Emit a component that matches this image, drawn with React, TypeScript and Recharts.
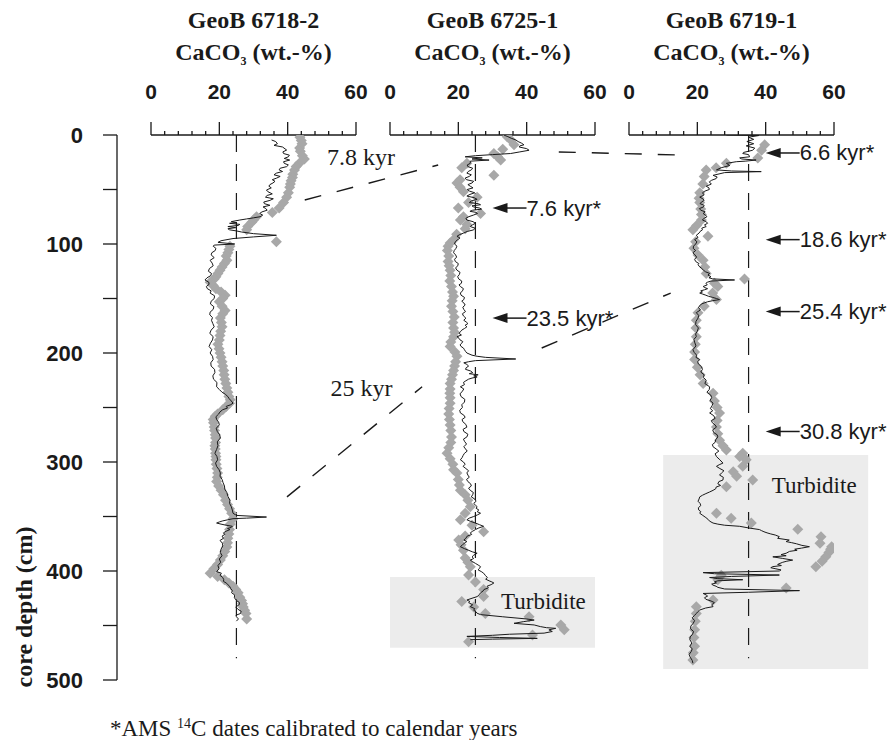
import React from "react";
import { ScatterChart, Scatter, XAxis, YAxis, ReferenceLine, ReferenceArea } from "recharts";

// figure geometry
const W = 895;
const H = 740;
const PLOT_TOP = 135;
const PLOT_BOTTOM = 680;
const PANEL_LEFT = [151, 390, 629];
const PANEL_W = 205;
const X_AXIS_H = 50;

const INK = "#1a1a1a";
const GRAY = "#a8a8a8";
const BOX = "#ececec";
const SANS = "'Liberation Sans', Arial, sans-serif";
const SERIF = "'Liberation Serif', 'Times New Roman', serif";

// ---- data: [depth cm, CaCO3 wt.-%] ----
const cores = ["GeoB 6718-2", "GeoB 6725-1", "GeoB 6719-1"];
const xTicks = [0, 4, 8, 12, 16, 20, 24, 28, 32, 36, 40, 44, 48, 52, 56, 60];
const depthTicks = [0, 50, 100, 150, 200, 250, 300, 350, 400, 450, 500];
const meanLevel = [25, 25, 35];

const line6718: [number, number][] = [
  [4.6, 35.3], [6, 36.5], [8, 37], [9.5, 36], [11, 38.5], [13.8, 39.7], [15.5, 38.6], [17, 38.8], [18.5, 40.5],
  [20, 40.2], [21.5, 39], [23, 40.6], [24.5, 38.8], [26, 39], [27.5, 40.2], [29, 39.7], [30.5, 37.8], [32, 37.5],
  [33.5, 38.5], [35, 36.7], [36.5, 36], [38, 37.8], [39.5, 36.8], [41, 35.5], [42.5, 36.3], [44, 35.7], [45.5, 34.8],
  [47, 34.5], [48.5, 35.2], [50.5, 33.8], [52, 34.2], [54, 35.5], [55.5, 34], [57, 33.5], [58.5, 35.8], [60, 34.8],
  [61.5, 33], [63, 33.2], [64.5, 34.8], [66, 32.8], [67.5, 33.6], [69, 34], [70.5, 32.5], [72, 31.8], [73.5, 32.7],
  [75, 31.9], [76, 30], [77, 28], [78, 26], [79.5, 23.5], [80.5, 25], [81, 23], [82, 26], [83, 25.5], [84, 22.5],
  [85, 24.8], [86, 22.5], [87, 23], [88, 25], [89, 26.5], [90.5, 30], [92, 36.7], [93.5, 30], [95, 24], [97, 20.5],
  [98.5, 19.6], [100, 24.5], [101, 18.5], [102, 18.2], [104, 19], [106, 18.8], [108, 17.8], [110, 17.6], [112.5, 18.5],
  [115, 17.3], [117.5, 17.9], [120, 18.2], [122.5, 17.1], [125, 16.8], [127, 17.7], [129, 17.5], [131, 16.4],
  [133, 15.8], [135, 16.9], [137, 17], [139, 16.2], [141, 16.5], [143, 17.6], [145, 17.3], [147.5, 18.6], [150, 18.5],
  [152.5, 17.6], [155, 17.4], [157.5, 18.4], [160, 18.2], [162.5, 17.3], [165, 17.2], [167.5, 18], [170, 17.7],
  [173, 18.1], [176, 18.5], [179, 17.6], [182, 17.2], [185, 18.2], [188, 18], [191, 17.4], [194, 17], [197, 17.8],
  [200, 17.3], [203, 18], [206, 18.2], [209, 17.5], [212, 17.6], [215, 18.6], [218, 18.7], [221, 18.1], [224, 18.3],
  [227, 19.3], [231, 19.2], [233.5, 20], [236, 20.8], [238, 21.8], [240, 22.5], [242, 22.9], [244, 23.5], [246, 24],
  [247.5, 23.3], [249, 22], [250.5, 22.4], [252, 21], [254, 20.2], [256, 19.8], [258.5, 19], [261, 19.2], [263.5, 19.8],
  [266, 20], [269, 19.1], [272, 19.4], [275, 20.1], [278, 20.3], [281.5, 19.4], [285, 19.6], [288.5, 19.2], [292, 18.7],
  [295, 19.3], [298, 19.5], [301, 18.9], [304, 19.2], [307, 19.9], [310, 20.3], [313, 20.2], [316, 20.8], [319, 21.1],
  [322, 21.5], [325, 21.6], [328, 22.2], [331.5, 22.5], [335, 23.1], [338, 23], [341, 23.5], [344, 23.8], [347, 24],
  [349, 25], [350.5, 33.8], [351.5, 28], [352, 24], [353, 22.5], [354, 21], [355, 20], [356, 19.2], [357, 20.5],
  [358, 22], [359, 23.8], [360, 23.5], [361, 22.4], [362, 23.1], [363.5, 22], [365, 21.2], [366.5, 21.6], [368, 20.8],
  [370, 21.2], [372, 20.2], [374.5, 20.9], [377, 21], [380, 20.5], [383, 20.3], [386, 20.8], [389, 20], [392, 20.4],
  [395, 19.6], [398, 19.9], [400.6, 19.2], [402, 20.6], [404, 20.2], [406, 21], [408, 21.3], [409.5, 21.2], [411, 22],
  [412.5, 22.5], [414, 23], [416, 23.3], [418, 23.8], [420, 23.6], [422, 24.5], [424.5, 24.4], [427, 25], [429, 25.9],
  [431, 25.8], [433, 24.8], [435, 25.4], [437, 26.4], [439, 26.2], [440.5, 24.9], [442, 25], [444, 25.6], [446, 25],
];

const samples6718: [number, number][] = [
  [2, 43.6], [5, 44], [8, 44.2], [12, 43.5], [15, 43.7], [19, 44.3], [22, 44.9], [26, 43.4], [29, 42.5], [32, 42],
  [36, 41.5], [39, 41.4], [42, 41], [45, 40.8], [48, 40.6], [53, 40.2], [57, 39.7], [62, 38.8], [67, 37.5], [71, 35.5],
  [75, 30.9], [78, 30], [80, 29.5], [84, 28.3], [87, 28], [98, 36.7], [102, 23.1], [105, 22.8], [108, 22.5], [111, 22],
  [115, 22.2], [118, 21.5], [121, 20.8], [124, 20.2], [127, 19.6], [130, 19], [132, 18.5], [135, 17.3], [138, 18.2],
  [141, 19], [144, 20.5], [147, 21.7], [150, 21], [153, 20], [157, 20.8], [161, 21.7], [164, 21], [168, 20.3],
  [172, 20.6], [176, 20.8], [180, 20.4], [184, 20.2], [188, 20], [192, 19.6], [196, 19.9], [200, 20.2], [204, 20.5],
  [208, 20.8], [212, 21], [216, 21.3], [220, 21.4], [224, 21.6], [228, 21.9], [232, 22.2], [236, 22.5], [240, 22.8],
  [243, 23.2], [246, 23], [249, 22], [252, 21], [256, 19.5], [258, 18.8], [261, 18.2], [264, 18.3], [268, 18.5],
  [271, 18.6], [275, 18.8], [278, 18.9], [282, 18.9], [285, 18.7], [288, 18.8], [292, 18.9], [295, 19], [298, 19],
  [302, 19.1], [306, 19.3], [310, 19.5], [314, 19.4], [318, 19.2], [322, 19.8], [326, 20.5], [330, 21.2], [335, 21.8],
  [339, 22.4], [343, 23], [347, 23.6], [352, 24], [357, 23.2], [362, 23], [366, 22.8], [370, 22.5], [374, 22.4],
  [378, 22.2], [382, 21.6], [386, 21], [390, 20.3], [394, 19.5], [398, 18.4], [402, 17.3], [405, 19.5], [408, 21.5],
  [411, 22.8], [414, 24], [417, 24.8], [420, 25.5], [424, 26], [427, 26.5], [430, 26.8], [433, 27], [436, 27.4],
  [439, 27.8], [444, 28],
];

const line6725: [number, number][] = [
  [0, 33.3], [1.5, 34.5], [3, 35.5], [4.5, 36.8], [6, 37.5], [7.5, 38.5], [9, 39.2], [10, 38], [11, 37.8], [12.5, 40],
  [14, 40.7], [15.5, 38], [17, 35.3], [18, 30], [19, 25], [20, 22], [21, 27], [22, 24], [23, 29], [24, 23.5],
  [26, 23.5], [27.5, 22.6], [29, 22.8], [30.5, 24.2], [32, 23.8], [33.5, 22.9], [35, 22.5], [36.5, 23.8], [38, 23.2],
  [39.5, 22], [41, 22.4], [42.5, 24.5], [44, 24], [45.5, 22.8], [47, 23.5], [48.5, 24.3], [50, 22.6], [51.5, 23.3],
  [53, 24.8], [54.5, 23.4], [56, 22.5], [57.5, 24.6], [59, 25.5], [60.5, 23.8], [62, 23.2], [63, 25.8], [64, 26.5],
  [65, 24], [66, 24.5], [67, 26.2], [68, 26.8], [69, 24.2], [70, 23.4], [71, 25.2], [72, 25.6], [73.5, 24.4],
  [75, 23], [76.5, 22.2], [78, 22.5], [79.5, 24.3], [81, 25], [82.5, 24.1], [84, 23.5], [85.5, 24.9], [87, 24.5],
  [88.5, 22.6], [90, 21.5], [91.5, 20.3], [93, 19.6], [94.5, 20.5], [96, 19.8], [98, 19.1], [100, 18.9], [102, 19.6],
  [104, 19.3], [106, 18.8], [108, 18.6], [110, 19.2], [112, 19.5], [114, 18.9], [116, 19.1], [118, 20], [120, 19.8],
  [122, 19.2], [124, 19.6], [126, 20.5], [128, 20.3], [130, 19.8], [132, 20.1], [134, 21], [136, 20.9], [137.5, 20.2],
  [139, 20.6], [141, 21.5], [143, 21.2], [145, 20.6], [147, 20.8], [149, 21.8], [151, 21.6], [152.5, 21], [154, 21.6],
  [156, 22], [158, 21.3], [160, 21.6], [162, 22.1], [164, 21.2], [166, 21.5], [168, 22.2], [170, 21.6], [171.5, 22.3],
  [173, 22.8], [174.5, 22], [176, 22.5], [177.5, 21.8], [179, 21], [180.5, 20.6], [182, 20.2], [183.5, 20.9],
  [185, 19.6], [186.5, 20.2], [188, 20.5], [189.5, 21.3], [191, 21], [192.5, 20.5], [194, 20.8], [195.5, 21.5],
  [197, 21.8], [198.5, 22.1], [200, 22.5], [202, 24], [203, 25.5], [204, 28], [205.5, 36.8], [207, 25], [208, 23],
  [209, 21.6], [210.5, 22.5], [212, 23], [213.5, 22.3], [215, 22.1], [216.5, 23.6], [218, 24.2], [219, 23.2],
  [220, 25.8], [221, 24.5], [222, 25.5], [223, 24], [224, 23], [225.5, 22.2], [227, 21.5], [229, 21.8], [231, 20.6],
  [233, 21.6], [235, 21.2], [237.5, 20.5], [240, 20.8], [242.5, 21.9], [245, 21.8], [247.5, 21], [250, 21.2],
  [252.5, 20.4], [255, 20.6], [257, 21.6], [259, 22], [261, 21.1], [263, 21.3], [265.5, 22.2], [268, 22.5],
  [270, 21.4], [272, 21.6], [274.5, 22.8], [277, 22.5], [279, 21.5], [281, 21.8], [283.5, 22.4], [286, 21.6],
  [288, 22.1], [290, 22.6], [292, 21.8], [294, 21.4], [296, 21.1], [298, 20.6], [300, 21.5], [302, 22], [304, 21.4],
  [306, 22.2], [308, 23], [310, 22.5], [312, 22.8], [314, 23.2], [316, 22.4], [318, 22.8], [320, 23.6], [322, 23.8],
  [324, 23], [326, 23.5], [328, 24.4], [330, 24.2], [332, 23.8], [334, 24.8], [336, 25.2], [338, 24.5], [339.5, 25],
  [341, 25.5], [342.5, 25.2], [344, 26], [345.5, 25.5], [347, 26.5], [348.5, 25.6], [350, 24.5], [351.5, 23.2],
  [353, 22.5], [354.5, 23.6], [356, 25], [357.5, 26.2], [359, 27.4], [360.5, 26], [362, 25], [363.5, 24.2],
  [365, 23.5], [366.5, 23.9], [368, 22.6], [370, 22.2], [371.6, 21.6], [373, 22.5], [374, 22], [376, 21.2],
  [377.7, 20.6], [379.5, 21.8], [381, 23], [382.5, 24.2], [383.7, 25.5], [385.5, 24.5], [387, 24], [388.5, 24.5],
  [390, 23.5], [391.5, 24.2], [393, 25], [394.5, 25.8], [396, 26.5], [397.5, 26.2], [399, 25.8], [400.5, 26.7],
  [402, 27.4], [404, 27.9], [406, 28.5], [407.5, 28], [409, 29], [410, 29.8], [411, 30.4], [412.5, 29.6], [414, 28.4],
  [415.5, 28.8], [417, 27.5], [418.5, 27.2], [420, 26.5], [421.5, 26.2], [423.5, 25.5], [425, 24], [426.6, 22.5],
  [428, 23.4], [429, 23], [431, 24.2], [432.7, 23.5], [434.5, 24.8], [436, 24.5], [437.5, 25.2], [438.8, 25.5],
  [440, 26.5], [442, 33], [444, 40], [445, 42.2], [446.5, 39], [448, 36.3], [449.5, 42.2], [451, 44], [452, 45.8],
  [452.6, 48.5], [454, 46.5], [455.5, 47.5], [457, 45.1], [458, 35], [459, 30], [460, 22.5], [461, 32], [461.8, 43.1],
  [462.5, 30], [463, 23.5],
];

const samples6725: [number, number][] = [
  [1.5, 34.3], [5, 35.5], [9, 36.3], [13, 33], [17, 30.4], [20, 31.5], [23, 32.4], [26, 22.5], [30, 21], [37, 30.4],
  [41, 20.5], [44, 19.6], [48, 20.5], [52, 21.5], [57, 25.5], [62, 23], [67, 20], [72, 26.5], [75, 21.5], [78, 20.6],
  [82, 22.5], [86, 22], [91, 19.5], [96, 18.6], [99, 17.6], [102, 17], [106, 16.8], [111, 17.2], [116, 17], [120, 17.3],
  [124, 17.6], [129, 17.8], [134, 17.5], [139, 18], [144, 18.3], [148, 18.6], [152, 18.2], [157, 18], [162, 18.4],
  [167, 18.8], [172, 18.4], [177, 18.6], [181, 18.9], [185, 18.6], [190, 17.8], [194, 17.6], [199, 19], [203, 19.6],
  [208, 19.2], [212, 18.9], [216, 18.6], [220, 18.3], [224, 18], [228, 17.6], [233, 17.6], [237, 17.5], [241, 17.6],
  [246, 17.6], [251, 17.3], [256, 17.2], [261, 17.4], [266, 17.6], [271, 17.8], [277, 18], [282, 17.8], [287, 17.2],
  [292, 16.7], [297, 17.6], [302, 18.4], [307, 18.6], [310, 19.6], [316, 20], [321, 20.3], [326, 20.6], [330, 22],
  [335, 22.8], [341, 23.5], [347, 22], [353, 20.6], [358, 24], [364, 27.4], [368, 22], [371.6, 20.1], [376, 20.8],
  [381, 21.5], [388, 22], [392, 22.8], [396, 23.5], [403.7, 23], [410, 25], [417, 27.4], [423.5, 27.4], [428, 21],
  [433, 24.5], [439, 27.9], [442, 40.7], [449.5, 50], [454, 51], [458.7, 41.7], [465, 23],
];

const line6719: [number, number][] = [
  [0, 28.5], [0.5, 38], [2, 35], [4, 36.5], [6, 34.5], [8, 36.5], [10, 34.3], [12, 36.8], [14, 36.2], [16, 33.5],
  [17, 33.3], [18, 35], [20, 35.3], [21, 32.4], [22, 33], [23, 37.2], [24, 34], [24.5, 31.4], [26, 28.5], [28, 29.5],
  [30, 27], [32, 25.6], [33, 30], [33.6, 38.7], [34.5, 28], [37, 24.6], [38.5, 25.8], [40, 25.5], [41.5, 24.2],
  [43, 23.5], [45, 24.1], [47, 22.6], [48.5, 23.4], [50, 23.5], [51.5, 22.2], [53, 21.5], [55, 22], [57, 20.7],
  [58.5, 21.6], [60, 22], [61.5, 21.2], [63, 20.8], [64.5, 22], [66, 21.8], [67.5, 20.6], [69, 21], [70.5, 22.3],
  [72, 21.7], [73.5, 22.4], [75, 22.8], [76.5, 21.9], [78, 21.5], [79.5, 22.6], [81, 23], [82.5, 22.1], [84, 22.6],
  [85.5, 21.3], [87, 21.5], [88.5, 20.8], [90, 20.5], [92, 19.7], [94, 20.2], [96, 19.2], [98, 19.9], [100, 19.5],
  [102, 18.9], [104, 18.8], [106, 19.5], [108, 18.7], [110, 19.3], [112, 19.8], [114, 19.2], [116, 19.5], [118, 20.5],
  [119, 20.2], [121, 20.7], [122.5, 21.3], [124, 21.8], [125.5, 22.4], [127, 23.6], [128.5, 23.1], [130, 24],
  [131, 23.4], [132, 24.5], [133, 30.9], [134, 24], [135, 23], [136, 22.5], [137.5, 22.9], [139, 21.7], [140, 22.2],
  [141, 23], [142, 22.1], [143, 21], [144, 21.5], [145, 20.7], [146, 21.6], [147, 22.5], [148, 23.3], [149, 24.5],
  [150, 25.6], [151, 26.5], [152, 24.5], [153, 23], [154, 22.1], [155, 21.2], [156.5, 20.8], [158, 20.3], [160.5, 20.9],
  [163, 19.7], [165.5, 20.4], [168, 20.2], [171, 19.6], [174, 19.5], [177, 20.3], [180, 20], [182.5, 19.5],
  [185, 19.7], [187.5, 19], [190, 19.2], [193.5, 19.6], [197, 18.7], [199.5, 19.1], [202, 19.8], [204, 19.6],
  [206, 20.7], [208, 20.1], [210, 20.3], [212.5, 21.2], [215, 21.5], [217.5, 21], [220, 22], [222.5, 21.8],
  [225, 22.6], [228, 22.2], [231, 23.6], [233.5, 23.5], [236, 22.8], [238.5, 23.9], [241, 24.2], [243.5, 23.7],
  [246, 24.6], [248.5, 24.3], [251, 23.8], [253, 24.5], [255, 23.6], [257.5, 24.8], [260, 25.2], [262, 24.1],
  [264, 24.4], [266, 25.2], [268, 25.6], [270.5, 24.5], [273, 24.8], [275, 25.8], [277, 26], [279.5, 25.4],
  [282, 25.2], [284, 24.4], [286, 24.6], [288, 25.5], [290, 26.3], [292.5, 25.2], [295, 25.6], [298, 26.6],
  [301, 27.5], [302.5, 26.4], [304, 25.6], [306, 26.6], [308, 27.8], [310, 27.1], [312, 26.5], [314, 27.6],
  [316.5, 27.5], [318, 26.3], [320, 26], [321.5, 26.8], [323, 25.5], [324.5, 25.4], [326, 24.6], [327.5, 23.6],
  [329, 22.5], [330.5, 21.5], [332, 20.7], [334, 20.5], [336, 20.2], [338, 20.8], [340, 21], [342, 20.3], [344, 20.4],
  [345.5, 21], [347, 20.7], [349, 21.6], [351, 22.5], [352.5, 23.1], [354, 23.5], [355, 24], [356, 24.6], [357, 26],
  [358, 28], [359, 32.4], [360.5, 35], [362, 38.2], [363, 38.8], [364, 39.5], [365, 40.4], [366, 41.5], [367, 42.8],
  [368.5, 44], [370, 43.5], [371.6, 46.9], [373, 46], [374, 47.6], [375, 49], [376.5, 50.6], [377.7, 52.8],
  [379, 50.5], [380, 48.5], [381, 49.2], [382, 47], [383.7, 46], [385, 44.5], [386, 46], [387, 42.1], [388.5, 45],
  [390, 47.9], [391, 46.2], [392, 45], [393, 44.2], [394, 43.5], [395, 44.6], [396, 42.1], [397, 41.5], [398, 43],
  [399, 44.5], [400, 44], [401.5, 21.7], [402.5, 25], [403.7, 44], [405, 30], [406, 23.6], [407, 26], [408, 33.3],
  [409, 26], [410, 25], [411, 25.6], [412, 24.2], [413, 24.6], [414, 25.5], [415, 26], [416.5, 28], [418, 49.9],
  [419.5, 35], [420.6, 21.7], [422, 22.6], [423, 23], [424.5, 22.1], [426, 22.5], [427.5, 24], [429, 25],
  [431, 24.2], [432.7, 24.6], [434, 22.4], [435.8, 20.7], [437.5, 20.1], [439, 19.7], [441, 19.1], [443, 18.5],
  [445.5, 19.2], [448, 18.8], [450.5, 18.1], [453, 18], [455.5, 18.9], [458, 18.6], [460.5, 17.9], [463, 17.8],
  [466, 18.4], [469, 17.8], [471.5, 18.5], [474, 18.2], [476.5, 17.6], [479, 17.9], [482, 18.5], [484.6, 18.7],
];

const samples6719: [number, number][] = [
  [9, 39.7], [14, 38.8], [21, 37.7], [26, 28.5], [30, 25.5], [32, 22.6], [38, 22], [45, 21.6], [53, 20.7], [58, 20.5],
  [62, 20.7], [68, 21], [73, 21.2], [78, 21.2], [83, 19.8], [87, 18.7], [93, 23.1], [98, 19.5], [104, 19], [110, 20.2],
  [115, 21.7], [121, 22.2], [127, 22.6], [132, 33.8], [136, 25], [139, 26], [145, 24.5], [151, 25.6], [157, 22],
  [163, 20.2], [170, 19.7], [177, 19.6], [185, 19.7], [192, 19.4], [199, 19.2], [206, 19.2], [213, 20], [220, 20.8],
  [228, 21.7], [237, 24.6], [244, 25], [250, 25.8], [255, 26.5], [262, 25.8], [268, 25.6], [274, 26], [280, 26.5],
  [285, 27.5], [289, 28.5], [292, 33.3], [295, 32.4], [298, 34.3], [304, 33.3], [309, 30.5], [313, 31.5],
  [316.5, 36.2], [322.6, 28.5], [347, 25.6], [351.6, 29.9], [356, 35.8], [361.8, 49.4], [368.5, 56.2], [374.6, 55.9],
  [377.7, 59.3], [380, 59], [383, 58.5], [387, 57.6], [391, 56.5], [396, 54.7], [404, 27], [408, 26], [415.7, 46],
  [426.6, 24.6], [432.7, 19.7], [439, 19.7], [446, 19.4], [454, 19.2], [461, 19], [469, 19.2], [475, 18.8],
  [481.6, 18.7],
];

const profiles = [line6718, line6725, line6719];
const samples = [samples6718, samples6725, samples6719];

// turbidite intervals [from cm, to cm, CaCO3 left, right]
const turbidites: ([number, number, number, number] | null)[] = [null, [405.5, 470.5, 0, 60], [293.5, 490, 10, 70]];

// ---- annotations (panel, CaCO3, depth) ----
const correlations = [
  { from: [0, 45, 59.6], to: [1, 14.1, 27.5] },
  { from: [1, 49.4, 15.6], to: [2, 14.3, 18.3] },
  { from: [1, 44.4, 195.4], to: [2, 12.2, 145] },
  { from: [0, 39.8, 332], to: [1, 9.4, 231] },
];
const amsDates = [
  { panel: 1, depth: 67, text: "7.6 kyr*" },
  { panel: 1, depth: 168, text: "23.5 kyr*" },
  { panel: 2, depth: 16.5, text: "6.6 kyr*" },
  { panel: 2, depth: 96, text: "18.6 kyr*" },
  { panel: 2, depth: 162, text: "25.4 kyr*" },
  { panel: 2, depth: 272, text: "30.8 kyr*" },
];
const tieAges = [
  { panel: 0, v: 51.5, depth: 27.5, text: "7.8 kyr" },
  { panel: 0, v: 52.5, depth: 239, text: "25 kyr" },
];
const turbiditeLabels = [
  { panel: 1, v: 32.5, depth: 434.5 },
  { panel: 2, v: 41.8, depth: 328.5 },
];

const sx = (p: number, v: number) => PANEL_LEFT[p] + (v / 60) * PANEL_W;
const sy = (d: number) => PLOT_TOP + (d / 500) * (PLOT_BOTTOM - PLOT_TOP);

function XTick({ x, y, payload }: any) {
  const major = payload.value % 20 === 0;
  return (
    <g>
      <line x1={x} x2={x} y1={y} y2={y - (major ? 13 : 4)} stroke={INK} strokeWidth={1.3} />
      {major && (
        <text x={x} y={y - 44} textAnchor="middle" dominantBaseline="central" fontFamily={SANS} fontWeight="bold" fontSize={21} fill={INK}>
          {payload.value}
        </text>
      )}
    </g>
  );
}

function YTick({ x, y, payload }: any) {
  return (
    <g>
      <line x1={x - 14} x2={x} y1={y} y2={y} stroke={INK} strokeWidth={1.3} />
      {payload.value % 100 === 0 && (
        <text x={x - 34} y={y} textAnchor="end" dominantBaseline="central" fontFamily={SANS} fontWeight="bold" fontSize={22} fill={INK}>
          {payload.value}
        </text>
      )}
    </g>
  );
}

function Diamond({ cx, cy }: any) {
  const r = 5.5;
  return <polygon points={`${cx},${cy - r} ${cx + r},${cy} ${cx},${cy + r} ${cx - r},${cy}`} fill={GRAY} />;
}

const NoDot = () => <g />;

function CorePanel({ index }: { index: number }) {
  const mLeft = 20;
  const mRight = index === 2 ? 50 : 20;
  const line = profiles[index].map(([d, v]) => ({ d, v }));
  const pts = samples[index].map(([d, v]) => ({ d, v }));
  const turb = turbidites[index];
  return (
    <div style={{ position: "absolute", left: PANEL_LEFT[index] - mLeft, top: 0 }}>
      <ScatterChart
        width={PANEL_W + mLeft + mRight}
        height={H}
        margin={{ top: PLOT_TOP - X_AXIS_H, right: mRight, bottom: H - PLOT_BOTTOM, left: mLeft }}
      >
        <XAxis
          type="number"
          dataKey="v"
          orientation="top"
          domain={[0, 60]}
          ticks={xTicks}
          interval={0}
          allowDataOverflow
          height={X_AXIS_H}
          tickSize={0}
          tickMargin={0}
          tickLine={false}
          axisLine={{ stroke: INK, strokeWidth: 1.3 }}
          tick={(p: any) => <XTick {...p} />}
        />
        <YAxis type="number" dataKey="d" domain={[0, 500]} reversed hide allowDataOverflow />
        {turb && (
          <ReferenceArea x1={turb[2]} x2={turb[3]} y1={turb[0]} y2={turb[1]} fill={BOX} fillOpacity={1} stroke="none" ifOverflow="visible" />
        )}
        <ReferenceLine
          segment={[{ x: meanLevel[index], y: 0 }, { x: meanLevel[index], y: 480 }]}
          stroke={INK}
          strokeWidth={1.2}
          strokeDasharray="17 12"
          ifOverflow="visible"
        />
        <Scatter data={pts} shape={(p: any) => <Diamond {...p} />} isAnimationActive={false} />
        <Scatter
          data={line}
          line={{ stroke: INK, strokeWidth: 1 }}
          lineType="joint"
          shape={() => <NoDot />}
          isAnimationActive={false}
        />
      </ScatterChart>
    </div>
  );
}

function DepthAxis() {
  // invisible anchors at the tick depths so the axis has data to scale against
  const anchors = depthTicks.map((d) => ({ d, v: 0 }));
  return (
    <div style={{ position: "absolute", left: 0, top: 0 }}>
      <ScatterChart width={150} height={H} margin={{ top: PLOT_TOP, right: 10, bottom: H - PLOT_BOTTOM, left: 0 }}>
        <XAxis type="number" dataKey="v" domain={[0, 60]} hide />
        <YAxis
          type="number"
          dataKey="d"
          domain={[0, 500]}
          reversed
          ticks={depthTicks}
          interval={0}
          width={117}
          tickSize={0}
          tickMargin={0}
          tickLine={false}
          axisLine={{ stroke: INK, strokeWidth: 1.3 }}
          tick={(p: any) => <YTick {...p} />}
        />
        <Scatter data={anchors} shape={() => <NoDot />} isAnimationActive={false} />
      </ScatterChart>
    </div>
  );
}

function Overlay() {
  return (
    <svg width={W} height={H} style={{ position: "absolute", left: 0, top: 0, pointerEvents: "none" }}>
      {cores.map((name, i) => {
        const cx = PANEL_LEFT[i] + PANEL_W / 2;
        return (
          <g key={name} fontFamily={SERIF} fontWeight="bold" fill={INK} textAnchor="middle">
            <text x={cx} y={28} fontSize={24}>{name}</text>
            <text x={cx} y={60} fontSize={24}>
              CaCO<tspan fontSize={12} dy={5}>3</tspan>
              <tspan dy={-5}> (wt.-%)</tspan>
            </text>
          </g>
        );
      })}

      {correlations.map((c, i) => (
        <line
          key={i}
          x1={sx(c.from[0], c.from[1])}
          y1={sy(c.from[2])}
          x2={sx(c.to[0], c.to[1])}
          y2={sy(c.to[2])}
          stroke={INK}
          strokeWidth={1.4}
          strokeDasharray="17 16"
        />
      ))}

      {amsDates.map((a) => {
        const tip = sx(a.panel, a.panel === 1 ? 30 : 40);
        const y = sy(a.depth);
        return (
          <g key={a.text}>
            <polygon points={`${tip},${y} ${tip + 15},${y - 5} ${tip + 15},${y + 5}`} fill={INK} />
            <line x1={tip + 10} x2={tip + 34} y1={y} y2={y} stroke={INK} strokeWidth={1.5} />
            <text x={tip + 34} y={y} dominantBaseline="central" fontFamily={SANS} fontSize={22} fill={INK}>
              {a.text}
            </text>
          </g>
        );
      })}

      {tieAges.map((t) => (
        <text key={t.text} x={sx(t.panel, t.v)} y={sy(t.depth)} fontFamily={SERIF} fontSize={24} fill={INK}>
          {t.text}
        </text>
      ))}

      {turbiditeLabels.map((t, i) => (
        <text key={i} x={sx(t.panel, t.v)} y={sy(t.depth)} fontFamily={SERIF} fontSize={23} fill={INK}>
          Turbidite
        </text>
      ))}

      <text
        transform="translate(32,607) rotate(-90)"
        textAnchor="middle"
        fontFamily={SERIF}
        fontWeight="bold"
        fontSize={24}
        fill={INK}
      >
        core depth (cm)
      </text>

      <text x={110} y={736} fontFamily={SERIF} fontSize={23} fill={INK}>
        *AMS <tspan fontSize={14} dy={-8}>14</tspan>
        <tspan dy={8}>C dates calibrated to calendar years</tspan>
      </text>
    </svg>
  );
}

export default function App() {
  return (
    <div style={{ position: "absolute", left: 0, top: 0, width: W, height: H, background: "#fff" }}>
      <DepthAxis />
      {cores.map((c, i) => (
        <CorePanel key={c} index={i} />
      ))}
      <Overlay />
    </div>
  );
}
